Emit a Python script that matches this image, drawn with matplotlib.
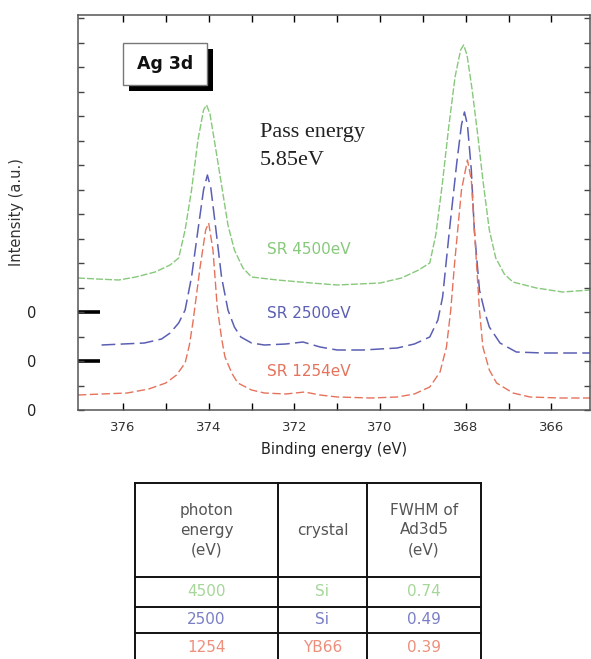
import matplotlib
matplotlib.use("Agg")
import matplotlib.pyplot as plt
from matplotlib.patches import Rectangle
from matplotlib.ticker import MultipleLocator, FixedLocator

# Ag 3d spectra (binding energy in eV, intensity in arbitrary units)
e_4500 = [377.05, 376.6, 376.1, 375.7, 375.25, 374.9, 374.7, 374.55, 374.4, 374.25,
          374.12, 374.05, 373.97, 373.85, 373.7, 373.55, 373.4, 373.2, 373.0, 372.4,
          371.6, 371.0, 370.0, 369.5, 369.1, 368.84, 368.7, 368.55, 368.4, 368.25,
          368.12, 368.05, 367.97, 367.85, 367.72, 367.6, 367.45, 367.3, 367.1, 366.9,
          366.35, 365.74, 365.1]
i_4500 = [132, 131, 130, 133, 138, 145, 152, 180, 220, 270,
          300, 305, 296, 265, 225, 185, 160, 142, 133, 130,
          127, 125, 127, 132, 140, 147, 175, 225, 282, 333,
          360, 365, 355, 320, 275, 230, 180, 152, 136, 128,
          122, 118, 120]

e_2500 = [376.5, 376.0, 375.5, 375.1, 374.9, 374.7, 374.55, 374.4, 374.25, 374.12,
          374.03, 373.95, 373.83, 373.7, 373.55, 373.4, 373.25, 373.0, 372.7, 372.2,
          371.8, 371.4, 371.0, 370.4, 369.6, 369.2, 368.84, 368.65, 368.54, 368.38,
          368.21, 368.1, 368.03, 367.96, 367.87, 367.8, 367.68, 367.55, 367.45, 367.2,
          366.82, 366.2, 365.1]
i_2500 = [65, 66, 67, 71, 77, 87, 100, 133, 180, 220,
          235, 222, 180, 133, 100, 83, 73, 67, 65, 66,
          68, 63, 60, 60, 62, 66, 73, 90, 113, 180,
          247, 285, 298, 285, 240, 180, 120, 97, 83, 67,
          58, 57, 57]

e_1254 = [377.05, 376.5, 375.9, 375.4, 375.0, 374.75, 374.55, 374.45, 374.37, 374.2,
          374.07, 374.0, 373.9, 373.8, 373.7, 373.62, 373.45, 373.32, 373.0, 372.7,
          372.2, 371.76, 371.4, 371.0, 370.2, 369.6, 369.2, 368.84, 368.6, 368.45,
          368.35, 368.26, 368.1, 367.96, 367.87, 367.75, 367.68, 367.6, 367.45, 367.28,
          366.9, 366.5, 365.8, 365.1]
i_1254 = [15, 16, 17, 21, 27, 35, 47, 65, 87, 143,
          180, 187, 160, 103, 72, 53, 36, 27, 20, 17,
          16, 18, 15, 13, 12, 13, 16, 23, 38, 63,
          100, 147, 220, 250, 230, 147, 100, 63, 40, 27,
          17, 13, 12, 12]

labels = ["SR 4500eV", "SR 2500eV", "SR 1254eV"]
zero_levels = [98, 49, 0]
x_ticks = [376, 374, 372, 370, 368, 366]
x_minor = [375, 373, 371, 369, 367]

# table contents
table_header = ["photon\nenergy\n(eV)", "crystal", "FWHM of\nAd3d5\n(eV)"]
photon_energy = ["4500", "2500", "1254"]
crystal = ["Si", "Si", "YB66"]
fwhm = ["0.74", "0.49", "0.39"]

green = "#86c97a"
blue = "#5b5fb3"
red = "#e5735c"
colors = [green, blue, red]
table_colors = ["#a6d69a", "#7a7fc4", "#ee8f7c"]

W, H = 591, 659
fig = plt.figure(figsize=(W / 100, H / 100), dpi=100)


def fbox(x0, y0, x1, y1):
    """pixel box (top-left origin) -> figure fraction rect"""
    return [x0 / W, 1 - y1 / H, (x1 - x0) / W, (y1 - y0) / H]


ax = fig.add_axes(fbox(78, 15, 590, 410))

ax.plot(e_4500, i_4500, color=green, lw=1.0, ls=(0, (5, 1.5)))
ax.plot(e_2500, i_2500, color=blue, lw=1.1, ls=(0, (9, 3.5)))
ax.plot(e_1254, i_1254, color=red, lw=1.0, ls=(0, (6, 2.5)))

ax.set_xlim(377.05, 365.1)
ax.set_ylim(0, 395)

ax.xaxis.set_major_locator(FixedLocator(x_ticks))
ax.xaxis.set_minor_locator(FixedLocator(x_minor))
ax.set_xticklabels([str(t) for t in x_ticks], fontsize=9.5, color="#333333")
ax.tick_params(axis="x", which="both", direction="in", top=True, length=5, width=1.0, pad=8)

ax.yaxis.set_major_locator(FixedLocator(zero_levels))
ax.set_yticklabels(["0"] * 3, fontsize=10.5, color="#222222")
ax.yaxis.set_minor_locator(MultipleLocator(24.5))
ax.yaxis.remove_overlapping_locs = False
ax.tick_params(axis="y", which="major", direction="in", length=16, width=2.6,
               pad=30, right=False, color="black")
ax.tick_params(axis="y", which="minor", direction="in", length=4, width=1.0,
               right=True, color="#444444")
# the bottom zero sits on the spine, no bar there
ax.yaxis.get_major_ticks()[2].tick1line.set_visible(False)

for sp in ax.spines.values():
    sp.set_color("#555555")
    sp.set_linewidth(1.1)

ax.set_xlabel("Binding energy (eV)", fontsize=10.5, color="#222222", labelpad=6)
ax.set_ylabel("Intensity (a.u.)", fontsize=10.5, color="#333333")
ax.yaxis.set_label_coords(-0.105, 0.5)

# curve labels
for lab, col, yv in zip(labels, colors, [160, 97, 38]):
    ax.text(372.64, yv, lab, color=col, fontsize=11, va="center", ha="left")

ax.text(372.8, 273, "Pass energy", family="Liberation Serif", fontsize=16,
        color="#222222", va="baseline")
ax.text(372.8, 245, "5.85eV", family="Liberation Serif", fontsize=16,
        color="#222222", va="baseline")

# "Ag 3d" box with drop shadow
shadow = fbox(129, 49, 213, 91)
box = fbox(123, 43, 207, 85)
fig.patches.append(Rectangle(shadow[:2], shadow[2], shadow[3], transform=fig.transFigure,
                             facecolor="black", edgecolor="none", zorder=5))
fig.patches.append(Rectangle(box[:2], box[2], box[3], transform=fig.transFigure,
                             facecolor="white", edgecolor="#777777", lw=1.0, zorder=6))
fig.text(165 / W, 1 - 64 / H, "Ag 3d", fontsize=12.5, fontweight="bold", ha="center",
         va="center", color="#111111", zorder=7)

# table below the plot, drawn in pixel coordinates
tx = fig.add_axes(fbox(130, 478, 486, 659))
tx.set_xlim(130, 486)
tx.set_ylim(659, 478)
tx.axis("off")

col_edges = [135, 278, 367, 481]
row_edges = [483, 577, 607, 633]
for xe in col_edges:
    tx.plot([xe, xe], [row_edges[0], 659], color="#111111", lw=1.4)
for ye in row_edges:
    tx.plot([col_edges[0], col_edges[-1]], [ye, ye], color="#111111", lw=1.4)

col_mid = [(a + b) / 2 for a, b in zip(col_edges[:-1], col_edges[1:])]
for cx, head in zip(col_mid, table_header):
    tx.text(cx, (row_edges[0] + row_edges[1]) / 2, head, ha="center", va="center",
            fontsize=11, color="#555555", linespacing=1.4)

row_mid = [592, 620, 648]
for ry, col, pe, cr, fw in zip(row_mid, table_colors, photon_energy, crystal, fwhm):
    for cx, s in zip(col_mid, [pe, cr, fw]):
        tx.text(cx, ry, s, ha="center", va="center", fontsize=11, color=col)

fig.savefig("out.png", dpi=100)
